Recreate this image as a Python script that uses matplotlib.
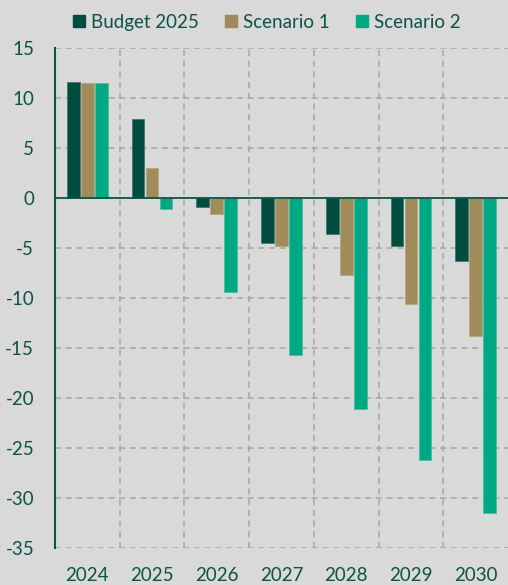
import matplotlib
matplotlib.use("Agg")
import matplotlib.pyplot as plt
import numpy as np
from matplotlib.patches import Patch

years = ["2024", "2025", "2026", "2027", "2028", "2029", "2030"]
budget_2025 = [11.6, 7.9, -0.95, -4.5, -3.6, -4.8, -6.3]
scenario_1 = [11.5, 3.0, -1.65, -4.85, -7.7, -10.6, -13.8]
scenario_2 = [11.5, -1.15, -9.4, -15.7, -21.1, -26.2, -31.5]
series_names = ["Budget 2025", "Scenario 1", "Scenario 2"]

colors = ["#004D40", "#A08C5B", "#00A884"]
edges = ["#3f7a6e", "#b7a67c", "#40c0a2"]
bg = "#D9D9D9"
txt = "#0B5345"
grid_c = "#A6A6A6"

plt.rcParams['font.family'] = ['Lato', 'DejaVu Sans']

fig = plt.figure(figsize=(5.08, 5.85), dpi=100, facecolor=bg)
ax = fig.add_axes([55/508, 37/585, 453/508, 500/585], facecolor=bg)

x = np.arange(len(years))
off = 0.216
w = 0.195
for i, vals in enumerate([budget_2025, scenario_1, scenario_2]):
    ax.bar(x + (i - 1) * off, vals, width=w, color=colors[i],
           edgecolor=edges[i], linewidth=0.6, zorder=3)

ax.set_xlim(-0.5, len(years) - 0.5)
ax.set_ylim(-35, 15)
ax.set_yticks(np.arange(-35, 16, 5))
ax.set_yticklabels([str(v) for v in range(-35, 16, 5)])
ax.set_xticks(x)
ax.set_xticklabels(years)

# grid
for yv in range(-35, 16, 5):
    if yv != 0:
        ax.axhline(yv, color=grid_c, linestyle=(0, (4, 3)), linewidth=1.1, zorder=1)
for b in np.arange(0.5, len(years) - 0.5, 1):
    ax.axvline(b, color=grid_c, linestyle=(0, (4, 3)), linewidth=1.1, zorder=1)
ax.axhline(0, color="#0B5345", linewidth=1.3, zorder=4)

for s in ["top", "right", "bottom"]:
    ax.spines[s].set_visible(False)
ax.spines["left"].set_color("#0B5345")
ax.spines["left"].set_linewidth(1.5)

ax.tick_params(axis="both", length=0, colors=txt, labelsize=13.5)
ax.tick_params(axis="y", pad=15)
ax.tick_params(axis="x", pad=14)

handles = [Patch(facecolor=colors[i], edgecolor=colors[i]) for i in range(3)]
fig.legend(handles, series_names, loc="center", bbox_to_anchor=(0.525, 0.962),
           ncol=3, frameon=False, fontsize=13.5, labelcolor=txt,
           handlelength=0.65, handleheight=0.65, handletextpad=0.3,
           columnspacing=1.4)

fig.savefig("out.png", dpi=100, facecolor=bg)
